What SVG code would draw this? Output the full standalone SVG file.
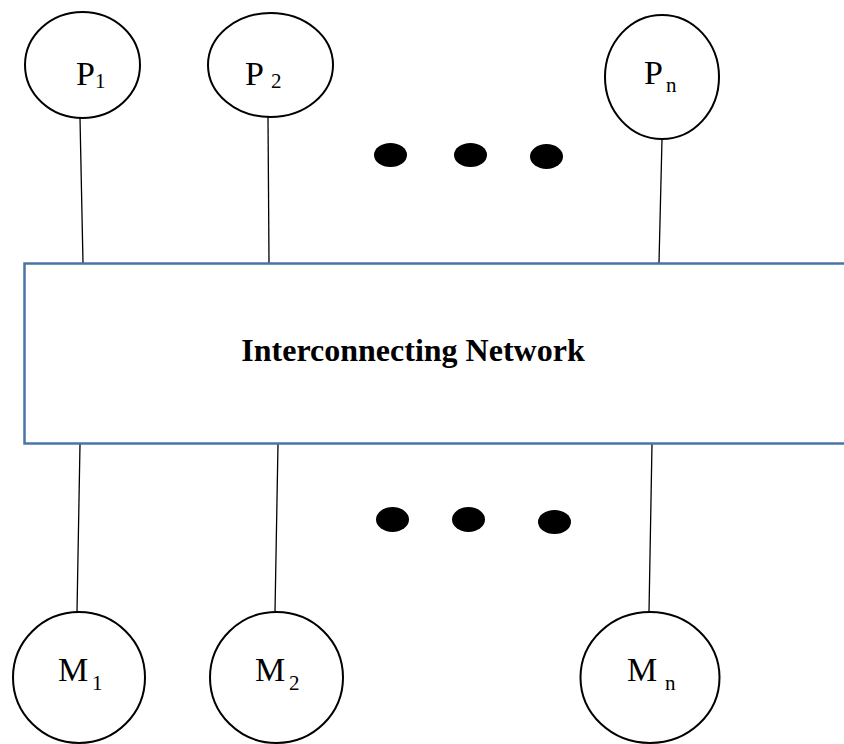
<svg xmlns="http://www.w3.org/2000/svg" width="844" height="744" viewBox="0 0 844 744">
  <style>
    .node { fill: #ffffff; stroke: #000000; stroke-width: 2; }
    .link { stroke: #000000; stroke-width: 1.3; fill: none; }
    .dot { fill: #000000; }
    .net { fill: #ffffff; stroke: #4a74a6; stroke-width: 2.5; }
    .lbl { font-family: "Liberation Serif", "Times New Roman", serif; font-size: 34px; fill: #000000; }
    .sub { font-family: "Liberation Serif", "Times New Roman", serif; font-size: 21px; fill: #000000; }
    .title { font-family: "Liberation Serif", "Times New Roman", serif; font-size: 32px; font-weight: bold; fill: #000000; }
  </style>
  <rect width="844" height="744" fill="#ffffff"/>

  <!-- links between processors / memories and the network -->
  <g id="connectors">
    <line class="link" x1="80" y1="118" x2="83" y2="263"/>
    <line class="link" x1="268" y1="117" x2="269" y2="263"/>
    <line class="link" x1="662" y1="139" x2="659" y2="263"/>
    <line class="link" x1="80" y1="444" x2="77" y2="612"/>
    <line class="link" x1="278" y1="444" x2="275" y2="612"/>
    <line class="link" x1="652" y1="444" x2="649" y2="612"/>
  </g>

  <!-- interconnecting network -->
  <g id="network">
    <rect class="net" x="24.5" y="263.5" width="840" height="180"/>
    <text class="title" x="413" y="361" text-anchor="middle">Interconnecting Network</text>
  </g>

  <!-- processors -->
  <g id="P1">
    <ellipse class="node" cx="82.5" cy="65" rx="57.5" ry="53"/>
    <text class="lbl" x="76" y="85">P</text>
    <text class="sub" x="95" y="88">1</text>
  </g>
  <g id="P2">
    <ellipse class="node" cx="270.5" cy="65" rx="62.5" ry="52"/>
    <text class="lbl" x="245" y="85">P</text>
    <text class="sub" x="271" y="88">2</text>
  </g>
  <g id="Pn">
    <ellipse class="node" cx="662" cy="77" rx="57" ry="62"/>
    <text class="lbl" x="644" y="84">P</text>
    <text class="sub" x="666" y="92">n</text>
  </g>

  <!-- ellipsis between processors -->
  <g id="dots-top">
    <ellipse class="dot" cx="390.5" cy="155" rx="16.5" ry="12"/>
    <ellipse class="dot" cx="470.5" cy="155" rx="16.5" ry="12"/>
    <ellipse class="dot" cx="546.5" cy="156.5" rx="16.5" ry="12.5"/>
  </g>

  <!-- ellipsis between memories -->
  <g id="dots-bottom">
    <ellipse class="dot" cx="392.5" cy="519.5" rx="16.5" ry="12.5"/>
    <ellipse class="dot" cx="468.5" cy="519.5" rx="16.5" ry="12.5"/>
    <ellipse class="dot" cx="554.5" cy="522" rx="16.5" ry="12"/>
  </g>

  <!-- memory modules -->
  <g id="M1">
    <ellipse class="node" cx="79" cy="677.5" rx="66" ry="65.5"/>
    <text class="lbl" x="58" y="681">M</text>
    <text class="sub" x="92" y="690">1</text>
  </g>
  <g id="M2">
    <ellipse class="node" cx="276.5" cy="677.5" rx="66.5" ry="65.5"/>
    <text class="lbl" x="255" y="681">M</text>
    <text class="sub" x="289" y="690">2</text>
  </g>
  <g id="Mn">
    <ellipse class="node" cx="650" cy="677.5" rx="69.5" ry="65.5"/>
    <text class="lbl" x="627" y="681">M</text>
    <text class="sub" x="665" y="690">n</text>
  </g>
</svg>
